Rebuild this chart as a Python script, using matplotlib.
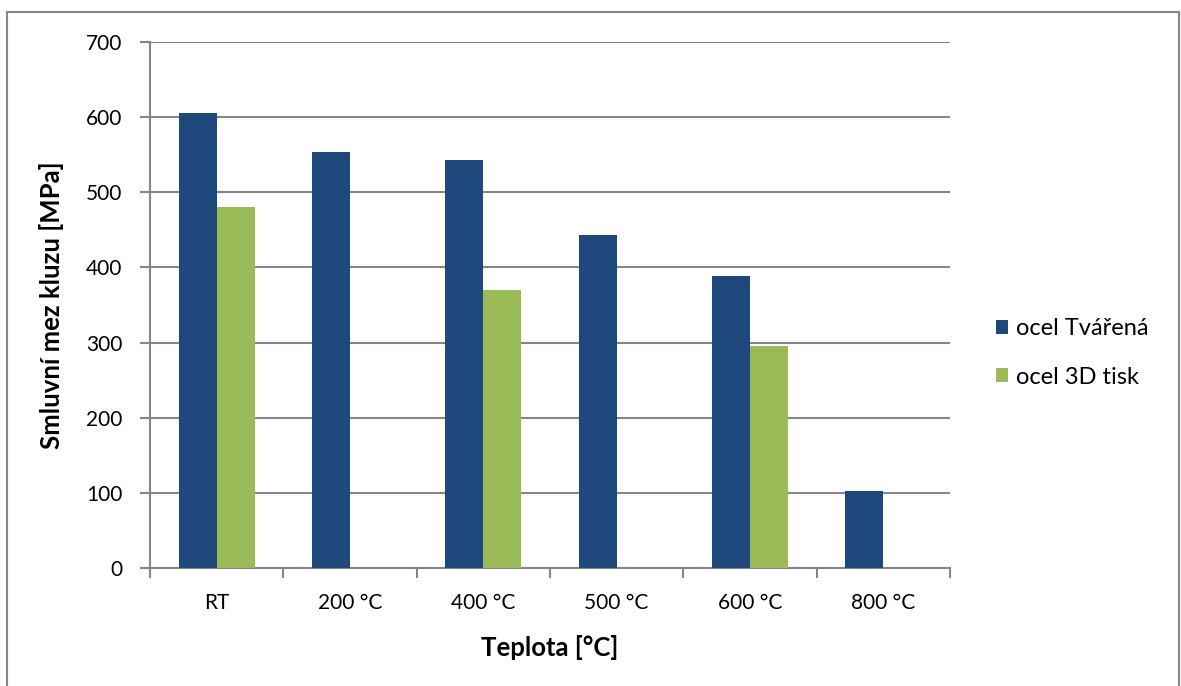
import matplotlib
matplotlib.use("Agg")
import matplotlib.pyplot as plt
import numpy as np
from matplotlib.lines import Line2D

categories = ["RT", "200 °C", "400 °C", "500 °C", "600 °C", "800 °C"]
tvarena = [605, 553, 543, 443, 389, 103]
tisk = [481, 0, 370, 0, 296, 0]
series_names = ["ocel Tvářená", "ocel 3D tisk"]
yticks = [0, 100, 200, 300, 400, 500, 600, 700]

plt.rcParams['font.family'] = ['Lato', 'DejaVu Sans']

W, H = 1181, 686
fig = plt.figure(figsize=(W / 100, H / 100), dpi=100)
ax = fig.add_axes([150 / W, 1 - 568 / H, 800 / W, (568 - 42) / H])

navy = "#1F497D"
green = "#9BBB59"
grid = "#868686"

x = np.arange(len(categories))
bw = 0.285
ax.bar(x - bw / 2, tvarena, bw, color=navy, label=series_names[0], zorder=3)
ax.bar(x + bw / 2, tisk, bw, color=green, label=series_names[1], zorder=3)

ax.set_xlim(-0.5, len(categories) - 0.5)
ax.set_ylim(0, 700)
ax.set_yticks(yticks)
ax.yaxis.grid(True, color=grid, linewidth=1.5, zorder=0)
ax.set_axisbelow(True)

for s in ["top", "right"]:
    ax.spines[s].set_visible(False)
for s in ["left", "bottom"]:
    ax.spines[s].set_color(grid)
    ax.spines[s].set_linewidth(1.5)

ax.set_xticks(x)
ax.set_xticklabels(categories, fontsize=15)
ax.set_xticks(np.arange(-0.5, len(categories), 1.0), minor=True)
ax.tick_params(axis="x", which="major", length=0, pad=18)
ax.tick_params(axis="x", which="minor", length=7, width=1.5, color=grid, direction="out")
ax.tick_params(axis="y", length=7, width=1.5, color=grid, labelsize=15, pad=13)

ax.set_ylabel("Smluvní mez kluzu [MPa]", fontsize=18.5, fontweight="bold", labelpad=16)
ax.set_xlabel("Teplota [°C]", fontsize=18.5, fontweight="bold", labelpad=16)

ax.legend(loc="center left", bbox_to_anchor=(975 / W, 1 - 353 / H), bbox_transform=fig.transFigure,
          frameon=False, fontsize=17, handlelength=0.5, handleheight=0.5, handletextpad=0.35,
          labelspacing=1.15)

# outer border
fig.add_artist(Line2D([7 / W, 7 / W], [0, 1 - 12 / H], transform=fig.transFigure, color=grid, lw=1.5))
fig.add_artist(Line2D([7 / W, 1179 / W], [1 - 12 / H, 1 - 12 / H], transform=fig.transFigure, color=grid, lw=1.5))
fig.add_artist(Line2D([1179 / W, 1179 / W], [0, 1 - 12 / H], transform=fig.transFigure, color=grid, lw=1.5))

fig.savefig("out.png", dpi=100)
